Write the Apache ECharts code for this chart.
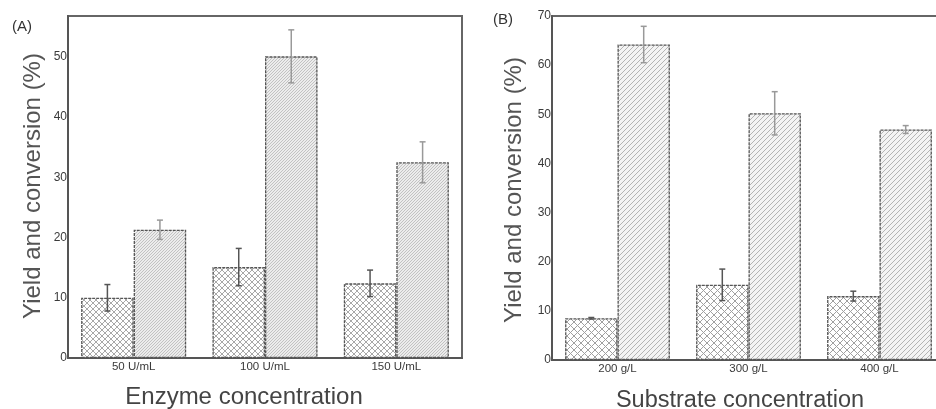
<!DOCTYPE html>
<html lang="en">
<head>
    <meta charset="UTF-8">
    <title>ECharts</title>
    <script src="https://cdn.jsdelivr.net/npm/echarts@6/dist/echarts.min.js"></script>
    <style>html,body{margin:0;padding:0;background:#fff;overflow:hidden;}</style>
</head>
<body>
<!-- a little wider than the window so that panel B runs off the right edge -->
<div id="main" style="width: 950px;height:409px;"></div>

<script type="text/javascript">
    // data
    var catA = ['50 U/mL', '100 U/mL', '150 U/mL'];
    var yieldA = [10.0, 15.1, 12.4];
    var yieldErrA = [2.2, 3.1, 2.2];
    var convA = [21.3, 50.1, 32.5];
    var convErrA = [1.6, 4.4, 3.4];

    var catB = ['200 g/L', '300 g/L', '400 g/L'];
    var yieldB = [8.5, 15.3, 13.0];
    var yieldErrB = [0.15, 3.2, 1.0];
    var convB = [64.2, 50.2, 46.9];
    var convErrB = [3.7, 4.4, 0.8];

    // hatch patterns
    function crossHatch(n, col) {
        var c = document.createElement('canvas');
        c.width = n; c.height = n;
        var g = c.getContext('2d');
        g.fillStyle = '#ffffff'; g.fillRect(0, 0, n, n);
        g.strokeStyle = col; g.lineWidth = 1;
        g.beginPath();
        g.moveTo(0, 0); g.lineTo(n, n);
        g.moveTo(n, 0); g.lineTo(0, n);
        g.stroke();
        return {image: c, repeat: 'repeat'};
    }
    function diagHatch(n, bg, col) {
        var c = document.createElement('canvas');
        c.width = n; c.height = n;
        var g = c.getContext('2d');
        g.fillStyle = bg; g.fillRect(0, 0, n, n);
        g.strokeStyle = col; g.lineWidth = 1;
        g.beginPath();
        g.moveTo(0, n); g.lineTo(n, 0);
        g.moveTo(-1, 1); g.lineTo(1, -1);
        g.moveTo(n - 1, n + 1); g.lineTo(n + 1, n - 1);
        g.stroke();
        return {image: c, repeat: 'repeat'};
    }
    var crossA = crossHatch(6, '#a8a8a8');
    var diagA = diagHatch(3, '#ececec', '#c2c2c2');
    var crossB = crossHatch(7, '#a0a0a0');
    var diagB = diagHatch(5, '#f4f4f4', '#b4b4b4');

    function errData(vals, errs) {
        var out = [];
        for (var i = 0; i < vals.length; i++) {
            out.push([i, vals[i] - errs[i], vals[i] + errs[i]]);
        }
        return out;
    }

    function errRender(sign, color) {
        return function (params, api) {
            var idx = api.value(0);
            var lo = api.coord([idx, api.value(1)]);
            var hi = api.coord([idx, api.value(2)]);
            var band = api.size([1, 0])[0];
            var x = lo[0] + sign * band * 0.2;
            var cap = 3;
            var st = {stroke: color, lineWidth: 1.5};
            return {
                type: 'group',
                children: [
                    {type: 'line', shape: {x1: x, y1: lo[1], x2: x, y2: hi[1]}, style: st},
                    {type: 'line', shape: {x1: x - cap, y1: lo[1], x2: x + cap, y2: lo[1]}, style: st},
                    {type: 'line', shape: {x1: x - cap, y1: hi[1], x2: x + cap, y2: hi[1]}, style: st}
                ]
            };
        };
    }

    var axisColor = '#555';
    var fontFam = 'Liberation Sans, Arial, sans-serif';

    function xAx(cats, gi) {
        return {
            type: 'category', gridIndex: gi, data: cats,
            axisLine: {lineStyle: {color: axisColor, width: 2}},
            axisTick: {show: false},
            axisLabel: {color: '#3a3a3a', fontSize: 11.5, fontFamily: fontFam, margin: 3}
        };
    }
    function yAx(max, gi) {
        return {
            type: 'value', gridIndex: gi, min: 0, max: max, interval: 10,
            splitLine: {show: false},
            axisLine: {show: true, lineStyle: {color: axisColor, width: 2}},
            axisTick: {show: false},
            axisLabel: {
                color: '#3a3a3a', fontSize: 12, fontFamily: fontFam, margin: 1,
                showMaxLabel: max % 10 === 0,
                formatter: function (v) { return v % 10 === 0 ? String(v) : ''; }
            }
        };
    }
    function bars(name, vals, pat, xi) {
        return {
            name: name, type: 'bar', xAxisIndex: xi, yAxisIndex: xi,
            data: vals, barWidth: '40%', barGap: '0%',
            itemStyle: {color: pat, borderColor: '#555', borderWidth: 1.3, borderType: [3, 1]},
            z: 2
        };
    }
    function errs(vals, e, sign, color, xi) {
        return {
            type: 'custom', xAxisIndex: xi, yAxisIndex: xi,
            data: errData(vals, e), renderItem: errRender(sign, color),
            encode: {x: 0, y: [1, 2]}, z: 5, silent: true
        };
    }

    var myChart = echarts.init(document.getElementById('main'), null, {renderer: 'canvas'});

    var option = {
        animation: false,
        backgroundColor: '#fff',
        grid: [
            {left: 68, top: 16, width: 394, height: 342, show: true, borderColor: '#666', borderWidth: 2},
            {left: 552, top: 16, width: 393, height: 344, show: true, borderColor: '#666', borderWidth: 2}
        ],
        xAxis: [xAx(catA, 0), xAx(catB, 1)],
        yAxis: [yAx(56.8, 0), yAx(70, 1)],
        graphic: [
            {type: 'text', left: 12, top: 19, style: {text: '(A)', fontSize: 15, fill: '#333', fontFamily: fontFam}},
            {type: 'text', left: 493, top: 12, style: {text: '(B)', fontSize: 15, fill: '#333', fontFamily: fontFam}},
            {type: 'text', x: 33, y: 186, rotation: Math.PI / 2,
                style: {text: 'Yield and conversion (%)', fontSize: 24, fill: '#555', fontFamily: fontFam,
                    align: 'center', verticalAlign: 'middle'}},
            {type: 'text', x: 514, y: 190, rotation: Math.PI / 2,
                style: {text: 'Yield and conversion (%)', fontSize: 24, fill: '#555', fontFamily: fontFam,
                    align: 'center', verticalAlign: 'middle'}},
            {type: 'text', x: 244, y: 397,
                style: {text: 'Enzyme concentration', fontSize: 24, fill: '#444', fontFamily: fontFam,
                    align: 'center', verticalAlign: 'middle'}},
            {type: 'text', x: 740, y: 401,
                style: {text: 'Substrate concentration', fontSize: 23.5, fill: '#444', fontFamily: fontFam,
                    align: 'center', verticalAlign: 'middle'}}
        ],
        series: [
            bars('Yield', yieldA, crossA, 0),
            bars('Conversion', convA, diagA, 0),
            errs(yieldA, yieldErrA, -1, '#555', 0),
            errs(convA, convErrA, 1, '#999', 0),
            bars('Yield', yieldB, crossB, 1),
            bars('Conversion', convB, diagB, 1),
            errs(yieldB, yieldErrB, -1, '#555', 1),
            errs(convB, convErrB, 1, '#999', 1)
        ]
    };

    myChart.setOption(option);
</script>
</body>
</html>
